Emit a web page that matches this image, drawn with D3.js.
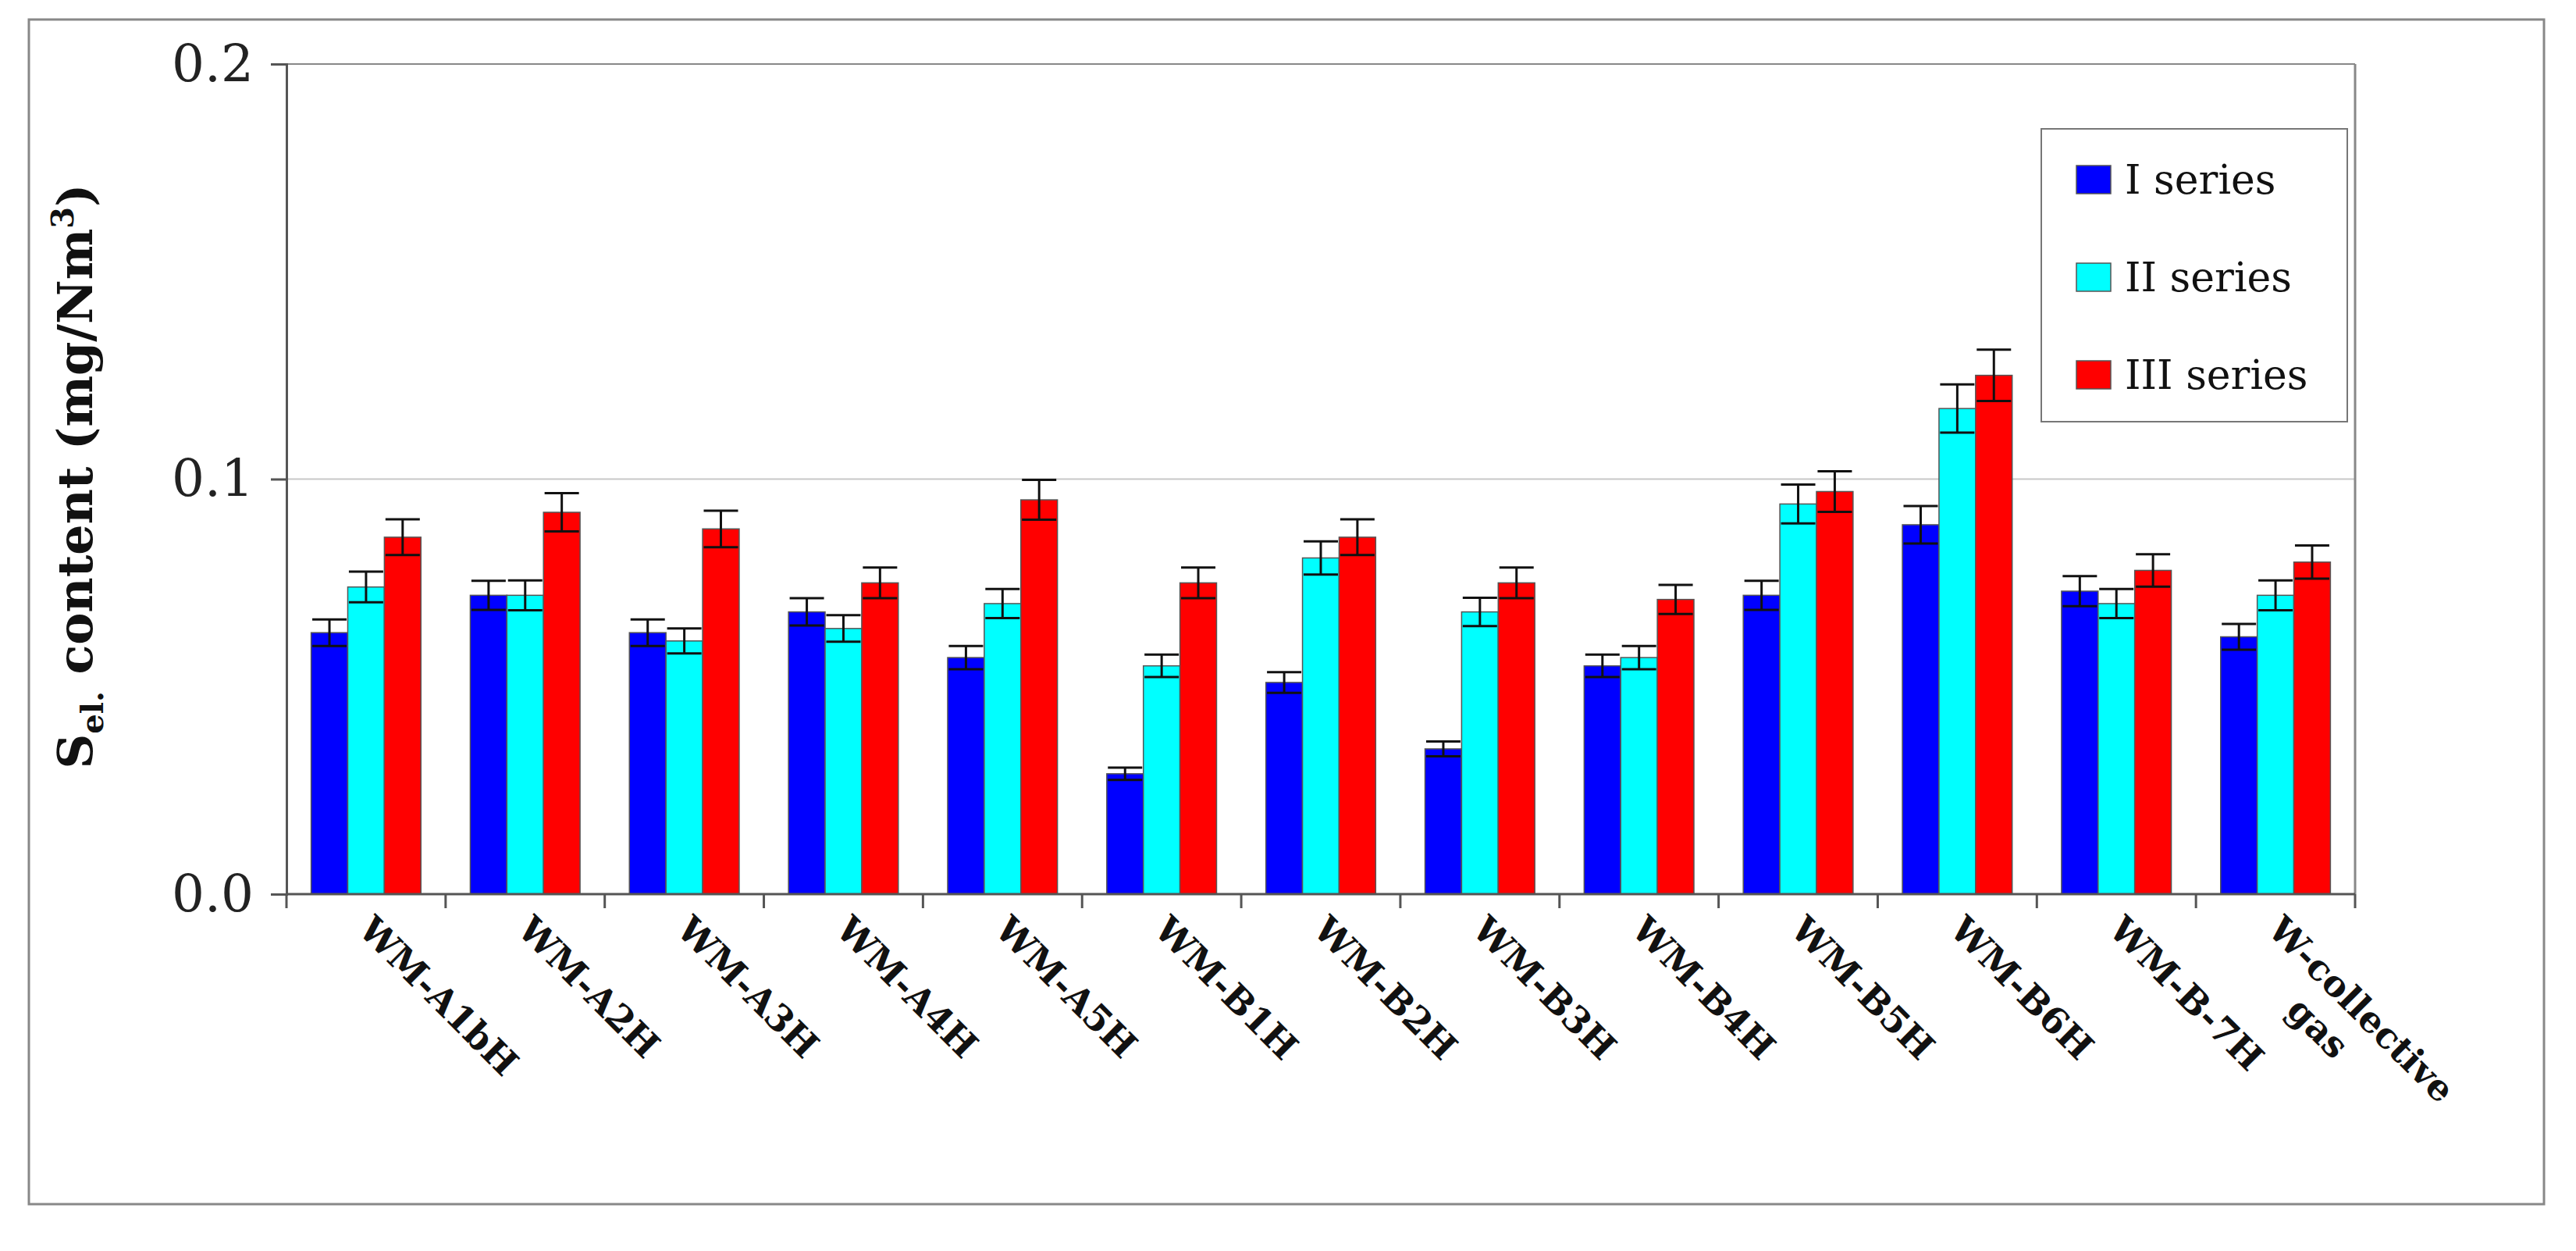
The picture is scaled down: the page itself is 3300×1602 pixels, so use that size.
<!DOCTYPE html>
<html><head><meta charset="utf-8">
<script src="https://cdn.jsdelivr.net/npm/d3@7"></script>
<style>body{margin:0;background:#fff}</style></head>
<body><svg id="c" width="3300" height="1602"></svg>
<script>
const categories=["WM-A1bH","WM-A2H","WM-A3H","WM-A4H","WM-A5H","WM-B1H","WM-B2H","WM-B3H","WM-B4H","WM-B5H","WM-B6H","WM-B-7H","W-collective gas"];
const seriesNames=["I series","II series","III series"];
const seriesI=[0.063,0.072,0.063,0.068,0.057,0.029,0.051,0.035,0.055,0.072,0.089,0.073,0.062];
const seriesII=[0.074,0.072,0.061,0.064,0.070,0.055,0.081,0.068,0.057,0.094,0.117,0.070,0.072];
const seriesIII=[0.086,0.092,0.088,0.075,0.095,0.075,0.086,0.075,0.071,0.097,0.125,0.078,0.080];
const errI=[0.0032,0.0035,0.0032,0.0033,0.0028,0.0015,0.0025,0.0018,0.0027,0.0035,0.0045,0.0036,0.0031];
const errII=[0.0037,0.0036,0.0030,0.0032,0.0035,0.0027,0.0040,0.0034,0.0028,0.0047,0.0058,0.0035,0.0036];
const errIII=[0.0043,0.0046,0.0044,0.0037,0.0048,0.0037,0.0043,0.0037,0.0035,0.0049,0.0062,0.0039,0.0040];
const yTicks=[0.0,0.1,0.2];
const colors=["#0000ff","#00ffff","#ff0000"];
const vals=[seriesI,seriesII,seriesIII], errs=[errI,errII,errIII];

const svg=d3.select("#c");
const F="'DejaVu Serif','Liberation Serif',serif";
svg.append("rect").attr("x",37).attr("y",25).attr("width",3222).attr("height",1517).attr("fill","none").attr("stroke","#888").attr("stroke-width",3);
const L=367,R=3017,T=82,B=1145;
const x=d3.scaleBand().domain(categories).range([L,R]).paddingInner(0.31).paddingOuter(0.155);
const xs=d3.scaleBand().domain([0,1,2]).range([0,x.bandwidth()]);
const y=d3.scaleLinear().domain([0,0.2]).range([B,T]);
svg.append("line").attr("x1",L).attr("x2",R).attr("y1",y(0.1)).attr("y2",y(0.1)).attr("stroke","#c8c8c8").attr("stroke-width",2);
svg.append("line").attr("x1",L).attr("x2",R).attr("y1",T).attr("y2",T).attr("stroke","#888").attr("stroke-width",2);
svg.append("line").attr("x1",R).attr("x2",R).attr("y1",T).attr("y2",B).attr("stroke","#888").attr("stroke-width",3);
categories.forEach((c,i)=>{
  vals.forEach((arr,s)=>{
    const bx=x(c)+xs(s), bw=xs.bandwidth();
    svg.append("rect").attr("x",bx).attr("y",y(arr[i])).attr("width",bw).attr("height",y(0)-y(arr[i]))
      .attr("fill",colors[s]).attr("stroke","#555").attr("stroke-width",1.5);
    const cx=bx+bw/2, e=errs[s][i];
    const g=svg.append("g").attr("stroke","#111").attr("stroke-width",3);
    g.append("line").attr("x1",cx).attr("x2",cx).attr("y1",y(arr[i]+e)).attr("y2",y(arr[i]-e));
    [arr[i]+e,arr[i]-e].forEach(v=>g.append("line").attr("x1",cx-22).attr("x2",cx+22).attr("y1",y(v)).attr("y2",y(v)));
  });
});
const ya=svg.append("g").attr("transform",`translate(${L},0)`).call(d3.axisLeft(y).tickValues(yTicks).tickFormat(d3.format(".1f")).tickSize(20).tickPadding(22));
ya.selectAll("path,line").attr("stroke","#555").attr("stroke-width",3);
ya.selectAll("text").attr("font-family",F).attr("font-size",66).attr("fill","#222");
const xa=svg.append("g").attr("transform",`translate(0,${B})`);
xa.append("line").attr("x1",L).attr("x2",R).attr("stroke","#555").attr("stroke-width",3);
const step=x.step();
for(let i=0;i<=categories.length;i++){
  const tx=L+step*i;
  xa.append("line").attr("x1",tx).attr("x2",tx).attr("y1",0).attr("y2",18).attr("stroke","#555").attr("stroke-width",3);
}
categories.forEach(c=>{
  const cx=x(c)+x.bandwidth()/2;
  const t=xa.append("text").attr("transform",`translate(${cx-12},48) rotate(45)`).attr("font-family",F).attr("font-size",46).attr("font-weight","bold").attr("fill","#111");
  if(c==="W-collective gas"){
    t.append("tspan").attr("x",0).attr("y",0).text("W-collective");
    t.append("tspan").attr("x",90).attr("y",56).text("gas");
  } else t.text(c);
});
const yl=svg.append("text").attr("transform","translate(118,610) rotate(-90)").attr("text-anchor","middle")
 .attr("font-family",F).attr("font-size",62).attr("font-weight","bold").attr("fill","#111");
yl.append("tspan").text("S");
yl.append("tspan").attr("font-size",40).attr("dy",14).text("el.");
yl.append("tspan").attr("dy",-14).text(" content (mg/Nm");
yl.append("tspan").attr("font-size",40).attr("dy",-24).text("3");
yl.append("tspan").attr("dy",24).text(")");
const lg=svg.append("g");
lg.append("rect").attr("x",2615).attr("y",165).attr("width",392).attr("height",375).attr("fill","#fff").attr("stroke","#777").attr("stroke-width",2);
seriesNames.forEach((n,i)=>{
  const ly=230+i*125;
  lg.append("rect").attr("x",2660).attr("y",ly-18).attr("width",44).attr("height",36).attr("fill",colors[i]).attr("stroke","#555").attr("stroke-width",1.5);
  lg.append("text").attr("x",2722).attr("y",ly+18).attr("font-family",F).attr("font-size",52).attr("fill","#111").text(n);
});
</script></body></html>
